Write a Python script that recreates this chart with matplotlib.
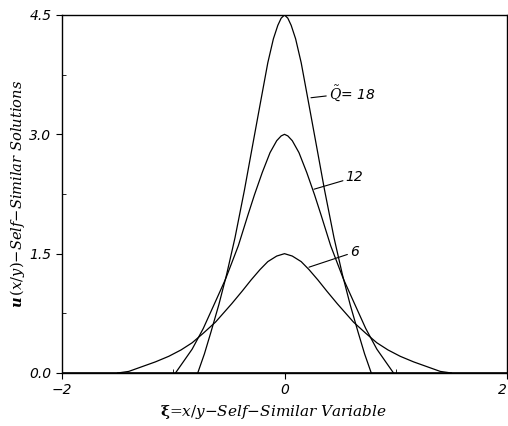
import matplotlib.pyplot as plt
from matplotlib.ticker import MultipleLocator

# self-similar profiles read for three values of Q~
xi_18 = [-0.78, -0.72, -0.66, -0.59, -0.52, -0.445, -0.36, -0.30, -0.22, -0.15, -0.10, -0.06, -0.03, 0.0,
         0.03, 0.06, 0.10, 0.15, 0.22, 0.30, 0.36, 0.445, 0.52, 0.59, 0.66, 0.72, 0.78]
u_18 = [0.0, 0.24, 0.52, 0.86, 1.24, 1.70, 2.30, 2.76, 3.37, 3.90, 4.20, 4.37, 4.46, 4.5,
        4.46, 4.37, 4.20, 3.90, 3.37, 2.76, 2.30, 1.70, 1.24, 0.86, 0.52, 0.24, 0.0]

xi_12 = [-0.98, -0.83, -0.73, -0.62, -0.53, -0.415, -0.33, -0.27, -0.20, -0.13, -0.07, -0.03, 0.0,
         0.03, 0.07, 0.13, 0.20, 0.27, 0.33, 0.415, 0.53, 0.62, 0.73, 0.83, 0.98]
u_12 = [0.0, 0.30, 0.56, 0.90, 1.18, 1.60, 1.98, 2.24, 2.52, 2.77, 2.92, 2.98, 3.0,
        2.98, 2.92, 2.77, 2.52, 2.24, 1.98, 1.60, 1.18, 0.90, 0.56, 0.30, 0.0]

xi_6 = [-1.50, -1.40, -1.28, -1.16, -1.04, -0.93, -0.83, -0.73, -0.62, -0.475, -0.38, -0.30, -0.22,
        -0.15, -0.07, 0.0, 0.07, 0.15, 0.22, 0.30, 0.38, 0.475, 0.62, 0.73, 0.83, 0.93, 1.04, 1.16,
        1.28, 1.40, 1.50]
u_6 = [0.0, 0.02, 0.08, 0.14, 0.21, 0.29, 0.38, 0.50, 0.64, 0.87, 1.03, 1.17, 1.30,
       1.40, 1.47, 1.5, 1.47, 1.40, 1.30, 1.17, 1.03, 0.87, 0.64, 0.50, 0.38, 0.29, 0.21, 0.14,
       0.08, 0.02, 0.0]

x_ticks = [-2, 0, 2]
y_ticks = [0.0, 1.5, 3.0, 4.5]

plt.rcParams['mathtext.fontset'] = 'dejavuserif'

fig = plt.figure(figsize=(5.08, 4.26), dpi=100)
ax = fig.add_axes([62 / 508, 1 - 373 / 426, 445 / 508, 358 / 426])

for xs, us in [(xi_18, u_18), (xi_12, u_12), (xi_6, u_6)]:
    ax.plot(xs, us, color='black', lw=0.9)
ax.plot([-2, 2], [0, 0], color='black', lw=1.2)

ax.set_xlim(-2, 2)
ax.set_ylim(0, 4.5)
ax.set_xticks(x_ticks)
ax.set_yticks(y_ticks)
ax.set_xticklabels(['\u22122', '0', '2'])
ax.set_yticklabels(['%.1f' % v for v in y_ticks])
ax.xaxis.set_minor_locator(MultipleLocator(1))
ax.yaxis.set_minor_locator(MultipleLocator(0.75))
ax.tick_params(which='major', direction='out', length=4, width=0.8, labelsize=10)
ax.tick_params(which='minor', direction='in', length=3, width=0.6)
for lab in ax.get_xticklabels() + ax.get_yticklabels():
    lab.set_fontstyle('italic')
    lab.set_family('DejaVu Sans')
# keep the last x label inside the figure edge
ax.get_xticklabels()[-1].set_horizontalalignment('right')
for s in ax.spines.values():
    s.set_linewidth(1.0)

ax.set_xlabel(r'$\mathbf{\xi}$' + '=' + r'$x/y$' + '\u2212Self\u2212Similar Variable',
              family='DejaVu Serif', style='italic', fontsize=11, labelpad=5)
ax.xaxis.set_label_coords(0.476, -0.085)
ax.set_ylabel(r'$\mathbfit{u}\,(x/y)$' + '\u2212Self\u2212Similar Solutions',
              family='DejaVu Serif', style='italic', fontsize=10.5, labelpad=2)

# curve labels with leader lines
leader = dict(arrowstyle='-', color='black', lw=0.8, shrinkA=0, shrinkB=0)
ax.annotate(r'$\tilde{Q}$' + '= 18', xy=(0.238, 3.46), xytext=(0.40, 3.52),
            fontsize=10, style='italic', va='center', arrowprops=leader)
ax.annotate('12', xy=(0.265, 2.31), xytext=(0.55, 2.46),
            fontsize=10, style='italic', va='center', arrowprops=leader)
ax.annotate('6', xy=(0.22, 1.33), xytext=(0.59, 1.52),
            fontsize=10, style='italic', va='center', arrowprops=leader)

fig.savefig('out.png', dpi=100)
